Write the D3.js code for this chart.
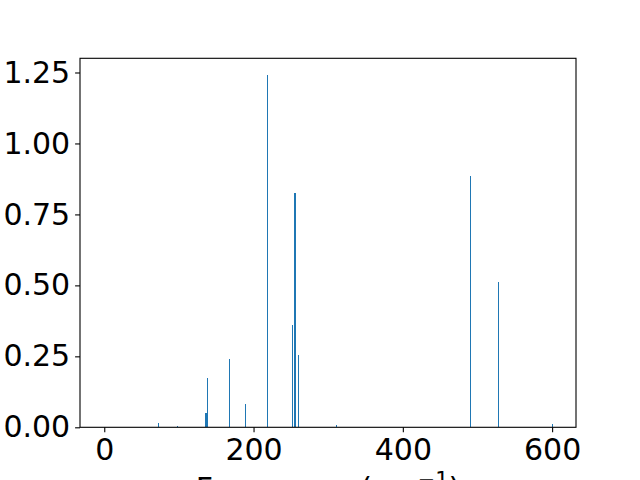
<!DOCTYPE html>
<html>
<head>
<meta charset="utf-8">
<script src="https://cdn.jsdelivr.net/npm/d3@7"></script>
<style>
  html, body { margin: 0; padding: 0; background: #fff; }
  svg { display: block; }
  text { font-family: "DejaVu Sans", sans-serif; fill: #000; }
</style>
</head>
<body>
<script>
// ---- data ----
const frequencies = [72.3, 97.8, 135.0, 136.3, 138.0, 167.4, 188.8, 218.3, 251.8, 254.2, 255.5, 259.8, 311.0, 490.0, 527.6, 600.0];
const intensities = [0.014, 0.0035, 0.049, 0.049, 0.173, 0.240, 0.081, 1.240, 0.359, 0.824, 0.824, 0.254, 0.0095, 0.884, 0.511, 0.011];
const xTicks = [0, 200, 400, 600];
const yTicks = [0, 0.25, 0.5, 0.75, 1.0, 1.25];
const xLabel = "Frequency (cm";
const xLabelSup = "\u22121";
const xLabelEnd = ")";

(function () {
const W = 640, H = 480;
const mLeft = 80, mRight = 576, mTop = 58.3, mBottom = 427.3;
const fs = 30;
const color = "#1f77b4";

const svg = d3.select("body").append("svg").attr("width", W).attr("height", H);

const x = d3.scaleLinear().domain([-32.5, 632]).range([mLeft, mRight]);
const y = d3.scaleLinear().domain([0, 1.3]).range([mBottom, mTop]);

const data = frequencies.map((f, i) => ({ f, v: intensities[i] }));
const bw = 1.2;

svg.append("g").selectAll("rect").data(data).join("rect")
  .attr("x", d => Math.round(x(d.f - bw / 2)))
  .attr("width", d => Math.max(1, Math.round(x(d.f + bw / 2) - x(d.f - bw / 2))))
  .attr("y", d => y(d.v))
  .attr("height", d => y(0) - y(d.v))
  .attr("fill", color)
  .attr("shape-rendering", "crispEdges");

// axes
const xAxis = d3.axisBottom(x).tickValues(xTicks).tickFormat(d3.format("d")).tickSize(4.9).tickPadding(4.9);
const yAxis = d3.axisLeft(y).tickValues(yTicks).tickFormat(d3.format(".2f")).tickSize(4.9).tickPadding(4.9);

const gx = svg.append("g").attr("transform", `translate(0,${mBottom})`).call(xAxis);
const gy = svg.append("g").attr("transform", `translate(${mLeft},0)`).call(yAxis);
[gx, gy].forEach(g => {
  g.select(".domain").remove();
  g.selectAll(".tick line").attr("stroke", "#000").attr("stroke-width", 1.1);
  g.selectAll(".tick text").attr("font-size", fs).attr("font-family", "DejaVu Sans").attr("fill", "#000");
});
gx.selectAll(".tick text").attr("dy", "0.77em");
gy.selectAll(".tick text").attr("dy", "0.32em");

// frame
svg.append("rect")
  .attr("x", mLeft).attr("y", mTop)
  .attr("width", mRight - mLeft).attr("height", mBottom - mTop)
  .attr("fill", "none").attr("stroke", "#000").attr("stroke-width", 1.1);

// x label (mostly cut off at the bottom)
const lbl = svg.append("text")
  .attr("x", (mLeft + mRight) / 2)
  .attr("y", 499)
  .attr("text-anchor", "middle")
  .attr("font-size", fs);
lbl.append("tspan").text(xLabel);
lbl.append("tspan").attr("font-size", fs * 0.7).attr("dy", -12).text(xLabelSup);
lbl.append("tspan").attr("dy", 12).text(xLabelEnd);
})();
</script>
</body>
</html>
